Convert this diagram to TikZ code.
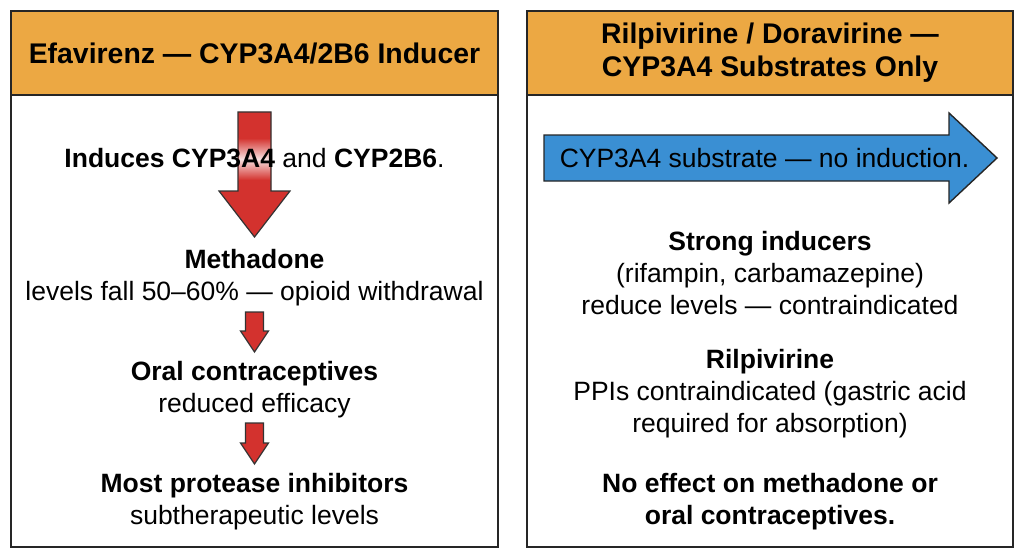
\documentclass[tikz,border=0pt]{standalone}
\usepackage{fontspec}
\setmainfont{Liberation Sans}
\usetikzlibrary{positioning}

\definecolor{hdrorange}{HTML}{ECA843}
\definecolor{arrred}{HTML}{D3322E}
\definecolor{arrblue}{HTML}{3A8FD3}

\begin{document}
\begin{tikzpicture}[
		x=1pt, y=-1pt,
		panel/.style={draw=black!85, line width=1.6pt},
		header/.style={draw=black!85, fill=hdrorange, line width=1.6pt},
		title/.style={font=\fontsize{28.4}{33}\selectfont\bfseries, align=center, inner sep=0pt},
		txt/.style={font=\fontsize{26.5}{32}\selectfont, align=center, inner sep=0pt},
		redarrow/.style={fill=arrred, draw=black!80, line width=1.2pt},
		bluearrow/.style={fill=arrblue, draw=black!85, line width=1.4pt}
		]
		\useasboundingbox (0,0) rectangle (1024,559);
		\fill[white] (0,0) rectangle (1024,559);

		% left panel
		\draw[panel] (11,11) rectangle (498,547);
		\draw[header] (11,11) rectangle (498,95);
		\node[title] (efv) at (254.5,53) {Efavirenz — CYP3A4/2B6 Inducer};

		\draw[redarrow] (238,112) -- (271,112) -- (271,191) -- (290,191) -- (254.5,237)
			-- (219,191) -- (238,191) -- cycle;
		\shade[top color=arrred, bottom color=arrred, middle color=white!85!arrred]
			(238.8,138) rectangle (270.2,180);
		\node[txt] (induces) at (254.5,158) {\textbf{Induces CYP3A4} and \textbf{CYP2B6}.};

		\node[txt] (methadone) at (254.5,278) {\textbf{Methadone}\\levels fall 50–60\% — opioid withdrawal};

		\draw[redarrow] (245.5,312) -- (263.5,312) -- (263.5,331) -- (268.5,331) -- (254.5,352)
			-- (240.5,331) -- (245.5,331) -- cycle;

		\node[txt] (oral) at (254.5,390) {\textbf{Oral contraceptives}\\reduced efficacy};

		\draw[redarrow] (245.5,423) -- (263.5,423) -- (263.5,443) -- (268.5,443) -- (254.5,464)
			-- (240.5,443) -- (245.5,443) -- cycle;

		\node[txt] (pis) at (254.5,502) {\textbf{Most protease inhibitors}\\subtherapeutic levels};

		% right panel
		\draw[panel] (527,11) rectangle (1013,547);
		\draw[header] (527,11) rectangle (1013,95);
		\node[title] (rpv) at (770,53) {Rilpivirine / Doravirine —\\CYP3A4 Substrates Only};

		\draw[bluearrow] (544,135) -- (949,135) -- (949,113) -- (997,158) -- (949,203)
			-- (949,181) -- (544,181) -- cycle;
		\node[txt] (substrate) at (764.5,158) {CYP3A4 substrate — no induction.};

		\node[txt] (inducers) at (770,273) {\textbf{Strong inducers}\\(rifampin, carbamazepine)\\reduce levels — contraindicated};
		\node[txt] (ppis) at (770,394) {\textbf{Rilpivirine}\\PPIs contraindicated (gastric acid\\required for absorption)};
		\node[txt, font=\fontsize{26.5}{32}\selectfont\bfseries] (noeffect) at (770,502) {No effect on methadone or\\oral contraceptives.};
	\end{tikzpicture}
\end{document}
